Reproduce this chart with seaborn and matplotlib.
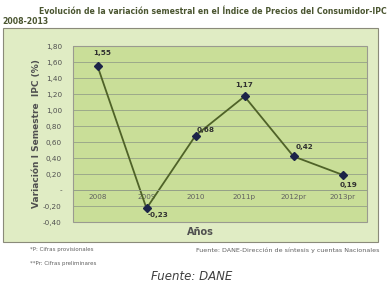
import matplotlib
matplotlib.use("Agg")
import matplotlib.pyplot as plt
import seaborn as sns
import pandas as pd
from matplotlib.patches import Rectangle
from matplotlib.ticker import FuncFormatter

years = ["2008", "2009", "2010", "2011p", "2012pr", "2013pr"]
values = [1.55, -0.23, 0.68, 1.17, 0.42, 0.19]
value_labels = ["1,55", "-0,23", "0,68", "1,17", "0,42", "0,19"]
label_offsets = [(5, 13), (11, -7), (10, 6), (0, 11), (11, 9), (6, -10)]

sns.set_style("white")
plt.rcParams['font.family'] = ['DejaVu Sans']

df = pd.DataFrame({"year": years, "value": values})

fig = plt.figure(figsize=(3.88, 2.81), dpi=100)
fig.patch.set_facecolor("white")

# outer chart area
fig.patches.append(Rectangle((3/388, 1-242/281), 375/388, 214/281, transform=fig.transFigure,
                             facecolor="#e0ecc4", edgecolor="#8a8a7a", linewidth=0.8, zorder=-5))

ax = fig.add_axes([73/388, 1-222/281, 294/388, 176/281])
ax.set_zorder(2)
ax.set_facecolor("#c9de98")

sns.pointplot(data=df, x="year", y="value", ax=ax, color="#4f6228", markers="D",
              linestyles="-", linewidth=1.3, markersize=4)
for coll in ax.collections:
    coll.set_facecolor("#1c2448")
    coll.set_edgecolor("#1c2448")
    coll.set_zorder(4)
for ln in ax.lines:
    ln.set_markerfacecolor("#1c2448")
    ln.set_markeredgecolor("#1c2448")

ax.set_ylim(-0.4, 1.8)
ax.set_xlim(-0.5, 5.5)
ax.set_yticks([-0.4, -0.2, 0, 0.2, 0.4, 0.6, 0.8, 1.0, 1.2, 1.4, 1.6, 1.8])

def fmt(v, pos):
    if abs(v) < 1e-9:
        return "-"
    return f"{v:.2f}".replace(".", ",")

ax.yaxis.set_major_formatter(FuncFormatter(fmt))
ax.grid(axis="y", color="#95a088", linewidth=0.6)
ax.set_axisbelow(True)

for s in ["top", "right", "left"]:
    ax.spines[s].set_visible(False)
ax.spines["bottom"].set_position(("data", 0))
ax.spines["bottom"].set_color("#95a088")
ax.spines["bottom"].set_linewidth(0.6)
# plot area border
ax.add_patch(Rectangle((0, 0), 1, 1, transform=ax.transAxes, fill=False,
                       edgecolor="#9a9a90", linewidth=0.8, zorder=1, clip_on=False))

ax.tick_params(axis="y", labelsize=5.2, labelcolor="#505050", length=0, pad=8)
ax.tick_params(axis="x", labelsize=5.2, labelcolor="#606060", length=0, pad=3)
ax.set_xlabel("")
ax.set_ylabel("Variación I Semestre  IPC (%)", fontsize=6.5, fontweight="bold",
              color="#505050")
ax.yaxis.set_label_coords(-(73 - 41) / 294, 0.5)

for i, (v, lab, off) in enumerate(zip(values, value_labels, label_offsets)):
    ax.annotate(lab, (i, v), xytext=off, textcoords="offset pixels", ha="center",
                va="center", fontsize=5.2, fontweight="bold", color="#303030", zorder=5)

fig.text(213/388, 1-12/281, "Evolución de la variación semestral en el Índice de Precios del Consumidor-IPC",
         ha="center", va="center", fontsize=5.6, fontweight="bold", color="#4a5530")
fig.text(2/388, 1-21/281, "2008-2013", ha="left", va="center", fontsize=5.6,
         fontweight="bold", color="#4a5530")
fig.text(200/388, 1-232/281, "Años", ha="center", va="center", fontsize=7,
         fontweight="bold", color="#505050")
fig.text(30/388, 1-250/281, "*P: Cifras provisionales", ha="left", va="center",
         fontsize=4, color="#606060")
fig.text(30/388, 1-263/281, "**Pr: Cifras preliminares", ha="left", va="center",
         fontsize=4, color="#606060")
fig.text(380/388, 1-250/281, "Fuente: DANE-Dirección de síntesis y cuentas Nacionales",
         ha="right", va="center", fontsize=4.6, color="#606060")
fig.text(192/388, 1-276/281, "Fuente: DANE", ha="center", va="center", fontsize=8.5,
         style="italic", color="#404040")

fig.savefig("out.png", dpi=100)
